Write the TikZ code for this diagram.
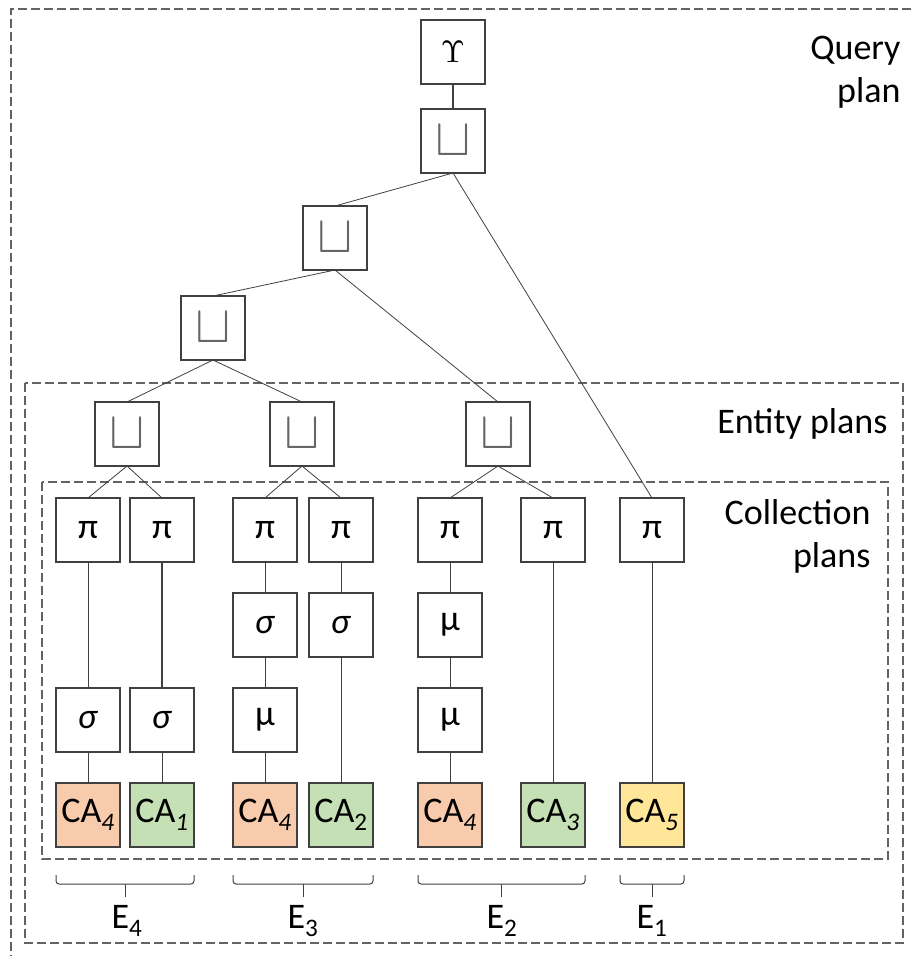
\documentclass[tikz,border=0pt]{standalone}
\usepackage{fontspec}
\setmainfont{Carlito}
\usetikzlibrary{positioning,calc}

\definecolor{caorange}{HTML}{F8CBAD}
\definecolor{cagreen}{HTML}{C5E0B4}
\definecolor{cayellow}{HTML}{FFE699}
\definecolor{boxline}{HTML}{404040}
\definecolor{frameline}{HTML}{636363}

\newcommand{\uop}{{\color{black!60}\scalebox{5.3}{\normalsize$\sqcup$}}}
\newcommand{\aggop}{\scalebox{3.1}{\normalsize$\Upsilon$}}

\begin{document}
\begin{tikzpicture}[
    x=1pt, y=-1pt,
    node distance=31pt,
    font=\fontsize{36}{43}\selectfont,
    op/.style={draw=boxline, line width=1.2pt, minimum size=64pt, inner sep=0pt, outer sep=0pt, fill=white},
    ca/.style={op, font=\fontsize{36}{43}\selectfont},
    link/.style={draw=boxline, line width=0.8pt},
    frame/.style={draw=frameline, line width=1.1pt, dash pattern=on 9pt off 4pt},
    bracket/.style={draw=boxline, line width=1pt, rounded corners=3pt},
    plan/.style={align=right, anchor=east}
]
    \useasboundingbox (0,0) rectangle (911,956);

    % Frames
    \draw[frame] (911,9) -- (11,9) -- (11,956);
    \draw[frame] (25,383) rectangle (903,943);
    \draw[frame] (42,482) rectangle (888,859);

    \node[plan] (qlbl) at (904,72) {Query\\plan};
    \node[plan] (elbl) at (891,424) {Entity plans};
    \node[plan] (clbl) at (874,536) {Collection\\plans};

    % Query plan
    \node[op] (agg) at (453,52) {\aggop};
    \node[op] (u0) at (453,141) {\uop};
    \node[op] (u1) at (335,238) {\uop};
    \node[op] (u2) at (213,328) {\uop};

    % Entity plans
    \node[op] (ue4) at (127,434) {\uop};
    \node[op] (ue3) at (302,434) {\uop};
    \node[op] (ue2) at (498,434) {\uop};

    % Collection plans
    \node[op] (p4a) at (88,530) {π};
    \node[op] (p4b) at (162,530) {π};
    \node[op] (p3a) at (265,530) {π};
    \node[op] (p3b) at (341,530) {π};
    \node[op] (p2a) at (450,530) {π};
    \node[op] (p2b) at (553,530) {π};
    \node[op] (p1) at (652,530) {π};

    % E4
    \node[op, below=126pt of p4a] (s4a) {\textit{σ}};
    \node[op, below=126pt of p4b] (s4b) {\textit{σ}};
    \node[ca, fill=caorange, below=of s4a] (c4a) {CA\textsubscript{\textit{4}}};
    \node[ca, fill=cagreen, below=of s4b] (c4b) {CA\textsubscript{\textit{1}}};

    % E3
    \node[op, below=of p3a] (s3a) {\textit{σ}};
    \node[op, below=of s3a] (m3a) {μ};
    \node[ca, fill=caorange, below=of m3a] (c3a) {CA\textsubscript{\textit{4}}};
    \node[op, below=of p3b] (s3b) {\textit{σ}};
    \node[ca, fill=cagreen, below=126pt of s3b] (c3b) {CA\textsubscript{2}};

    % E2
    \node[op, below=of p2a] (m2a) {μ};
    \node[op, below=of m2a] (m2b) {μ};
    \node[ca, fill=caorange, below=of m2b] (c2a) {CA\textsubscript{\textit{4}}};
    \node[ca, fill=cagreen, below=221pt of p2b] (c2b) {CA\textsubscript{\textit{3}}};

    % E1
    \node[ca, fill=cayellow, below=221pt of p1] (c1) {CA\textsubscript{\textit{5}}};

    % Links
    \draw[link, line width=1.5pt] (agg) -- (u0);
    \draw[link] (u0.south) -- (u1.north);
    \draw[link] (u0.south) -- (p1.north);
    \draw[link] (u1.south) -- (u2.north);
    \draw[link] (u1.south) -- (ue2.north);
    \draw[link] (u2.south) -- (ue4.north);
    \draw[link] (u2.south) -- (ue3.north);
    \draw[link] (ue4.south) -- (p4a.north);
    \draw[link] (ue4.south) -- (p4b.north);
    \draw[link] (ue3.south) -- (p3a.north);
    \draw[link] (ue3.south) -- (p3b.north);
    \draw[link] (ue2.south) -- (p2a.north);
    \draw[link] (ue2.south) -- (p2b.north);

    \draw[link] (p4a) -- (s4a);
    \draw[link] (s4a) -- (c4a);
    \draw[link, line width=1.5pt] (p4b) -- (s4b);
    \draw[link] (s4b) -- (c4b);
    \draw[link] (p3a) -- (s3a);
    \draw[link] (s3a) -- (m3a);
    \draw[link] (m3a) -- (c3a);
    \draw[link] (p3b) -- (s3b);
    \draw[link] (s3b) -- (c3b);
    \draw[link] (p2a) -- (m2a);
    \draw[link] (m2a) -- (m2b);
    \draw[link] (m2b) -- (c2a);
    \draw[link] (p2b) -- (c2b);
    \draw[link] (p1) -- (c1);

    % Entities
    \draw[bracket] ([yshift=-28pt]c4a.south west) -- ++(0,-9pt) -| ([yshift=-28pt]c4b.south east);
    \draw[bracket] ([yshift=-37pt]$(c4a.south west)!.5!(c4b.south east)$) -- ++(0,-13pt);
    \draw[bracket] ([yshift=-28pt]c3a.south west) -- ++(0,-9pt) -| ([yshift=-28pt]c3b.south east);
    \draw[bracket] ([yshift=-37pt]$(c3a.south west)!.5!(c3b.south east)$) -- ++(0,-13pt);
    \draw[bracket] ([yshift=-28pt]c2a.south west) -- ++(0,-9pt) -| ([yshift=-28pt]c2b.south east);
    \draw[bracket] ([yshift=-37pt]$(c2a.south west)!.5!(c2b.south east)$) -- ++(0,-13pt);
    \draw[bracket] ([yshift=-28pt]c1.south west) -- ++(0,-9pt) -| ([yshift=-28pt]c1.south east);
    \draw[bracket] ([yshift=-37pt]$(c1.south west)!.5!(c1.south east)$) -- ++(0,-13pt);
    \node (e4) at (127,921) {E\textsubscript{4}};
    \node (e3) at (303,921) {E\textsubscript{3}};
    \node (e2) at (502,921) {E\textsubscript{2}};
    \node (e1) at (652,921) {E\textsubscript{1}};
\end{tikzpicture}
\end{document}
